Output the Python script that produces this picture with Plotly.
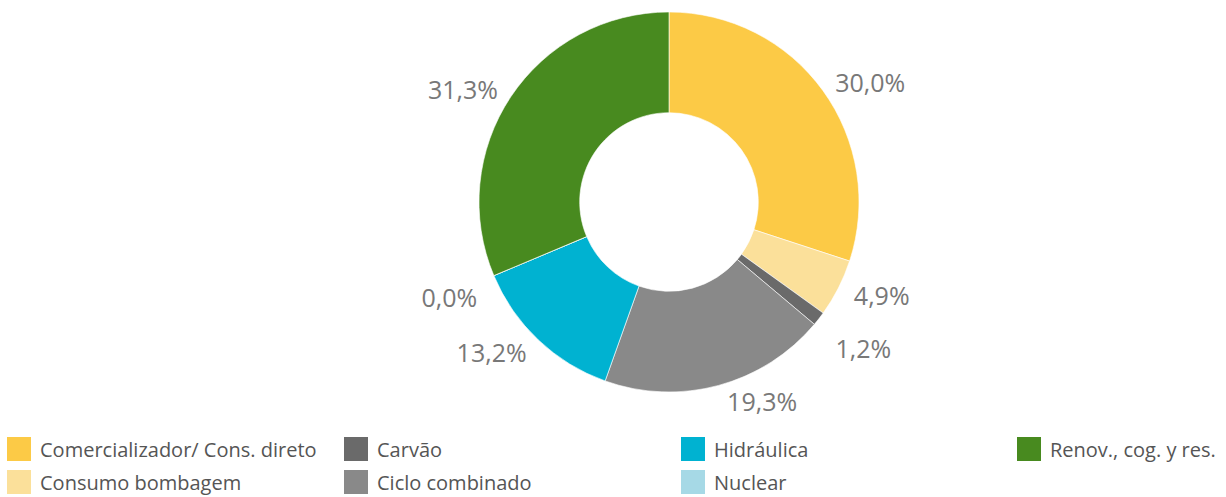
import plotly.graph_objects as go

# Share of each source, clockwise from the top
labels = [
    "Comercializador/ Cons. direto",
    "Consumo bombagem",
    "Carvão",
    "Ciclo combinado",
    "Hidráulica",
    "Nuclear",
    "Renov., cog. y res.",
]
shares = [30.0, 4.9, 1.2, 19.3, 13.2, 0.0, 31.3]
colors = ["#FCCA46", "#FBE09A", "#6A6A6A", "#898989", "#00B2D1", "#A6D9E6", "#488A1F"]

# Legend layout: column-major, two rows
legend_order = [
    "Comercializador/ Cons. direto", "Consumo bombagem",
    "Carvão", "Ciclo combinado",
    "Hidráulica", "Nuclear",
    "Renov., cog. y res.",
]

W, H = 1226, 497
CX, CY, R = 669, 202, 190          # donut centre and outer radius (px)

# Outward offset of each percentage label (fraction of radius)
label_pull = [0.025, 0.041, 0.0, 0.0, 0.025, 0.0, 0.027]
# Labels that sit one line lower than the default outside position
label_drop = [False, False, True, False, False, True, False]

LABEL = "%{value:.1f}%"


def domain(radius):
    return dict(
        x=[max(0, (CX - radius) / W), min(1, (CX + radius) / W)],
        y=[max(0, (H - CY - radius) / H), min(1, (H - CY + radius) / H)],
    )


fig = go.Figure()

# The donut itself
fig.add_trace(go.Pie(
    labels=labels,
    values=shares,
    marker=dict(colors=colors, line=dict(color="white", width=0.6)),
    hole=0.47,
    sort=False,
    direction="clockwise",
    rotation=0,
    textinfo="none",
    showlegend=False,
    domain=domain(R),
))

# Transparent copies that carry the outside percentage labels; neighbouring
# labels go to different copies so that they are never shuffled around.
for parity in (0, 1):
    templates = []
    for i in range(len(labels)):
        if i % 2 != parity:
            templates.append("")
        elif label_drop[i]:
            templates.append("&nbsp;<br>" + LABEL)
        else:
            templates.append(LABEL)
    pulls = [p if i % 2 == parity else 0 for i, p in enumerate(label_pull)]
    fig.add_trace(go.Pie(
        labels=labels,
        values=shares,
        marker=dict(colors=["rgba(0,0,0,0)"] * len(labels), line=dict(width=0)),
        sort=False,
        direction="clockwise",
        rotation=0,
        pull=pulls,
        textposition="outside",
        texttemplate=templates,
        textfont=dict(family="Open Sans", size=25, color="#787878"),
        hoverinfo="skip",
        showlegend=False,
        automargin=False,
        domain=domain(R * (1 + max(pulls))),
    ))

shapes = []
annotations = []
col_x = [7, 344, 681, 1017]
row_y = [449, 482]
sq = 24
color_of = dict(zip(labels, colors))
for i, name in enumerate(legend_order):
    c, r = divmod(i, 2)
    x0 = col_x[c]
    yc = row_y[r]
    shapes.append(dict(
        type="rect", xref="paper", yref="paper",
        x0=x0 / W, x1=(x0 + sq) / W,
        y0=1 - (yc + sq / 2) / H, y1=1 - (yc - sq / 2) / H,
        fillcolor=color_of[name], line=dict(width=0),
    ))
    annotations.append(dict(
        text=name, xref="paper", yref="paper",
        x=(x0 + 31) / W, y=1 - yc / H,
        xanchor="left", yanchor="middle", showarrow=False,
        font=dict(family="Open Sans", size=20, color="#555555"),
    ))

fig.update_layout(
    width=W, height=H,
    margin=dict(l=0, r=0, t=0, b=0, autoexpand=False),
    paper_bgcolor="white",
    plot_bgcolor="white",
    separators=",.",
    shapes=shapes,
    annotations=annotations,
)

fig.write_html("out.html")
